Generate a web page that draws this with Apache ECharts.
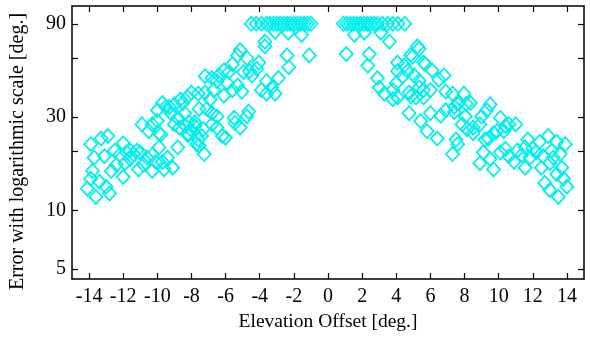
<!DOCTYPE html>
<html>
<head>
<meta charset="utf-8">
<script src="https://cdn.jsdelivr.net/npm/echarts@6/dist/echarts.min.js"></script>
<style>
  html, body { margin: 0; padding: 0; background: #fff; }
  #chart { width: 590px; height: 337px; }
</style>
</head>
<body>
<div id="chart"></div>
<script>
// tick positions
const xTicks = [-14, -12, -10, -8, -6, -4, -2, 0, 2, 4, 6, 8, 10, 12, 14];
const yTicks = [5, 10, 20, 30, 60, 90];
const yLabels = [5, 10, 30, 90];

// negative offsets: [offset, error]
const leftPoints = [
  [-4.5, 90], [-4.2, 90], [-3.9, 90], [-3.6, 90], [-3.4, 90], [-3.2, 90], [-3.0, 90], [-2.8, 90], [-2.6, 90],
  [-2.4, 90], [-2.2, 90], [-2.0, 90], [-1.8, 90], [-1.6, 90], [-1.4, 90], [-1.2, 90], [-1.0, 90],
  [-3.1, 82], [-2.33, 81], [-1.55, 79], [-3.7, 73], [-2.4, 62], [-1.1, 62], [-2.3, 54],
  [-5.15, 66], [-5.3, 62], [-4.75, 60], [-3.7, 69], [-4.05, 57], [-5.6, 56], [-6.1, 52], [-5.8, 51],
  [-4.95, 51], [-4.6, 51.5], [-4.45, 49], [-4.17, 53], [-3.6, 45.8], [-3.9, 41.2], [-3.6, 39.5],
  [-3.3, 42.5], [-2.9, 47.5], [-3.1, 39.5],
  [-6.4, 49], [-6.5, 45.8], [-5.9, 44.7], [-5.6, 41.2], [-5.3, 43.5], [-5.05, 40.5], [-6.1, 38.6],
  [-6.7, 41.2], [-7.2, 40], [-6.9, 36.9], [-7.6, 39.5], [-8.0, 40], [-8.25, 38], [-8.65, 36.9],
  [-9.0, 34.8], [-9.5, 33.8], [-9.7, 35.4], [-10.0, 32.5], [-9.2, 31.4], [-8.8, 29.7], [-8.4, 31.4],
  [-8.15, 28.2], [-7.8, 27], [-7.3, 26], [-6.8, 27.5], [-6.5, 30.2], [-7.1, 33], [-5.5, 29.7],
  [-4.75, 30.2], [-5.15, 26.5], [-6.2, 24], [-7.6, 23], [-8.15, 24.4], [-9.9, 24.8], [-7.2, 48.5],
  [-6.8, 47.5], [-7.55, 33], [-6.8, 31.4], [-6.0, 23.5], [-7.4, 24], [-7.55, 21.5], [-7.25, 19.4],
  [-5.45, 28], [-4.65, 32], [-6.5, 26.5],
  [-9.3, 33.8], [-8.5, 35.4], [-9.0, 27.5], [-8.7, 26.5], [-8.35, 27], [-8.06, 26], [-7.8, 28.2],
  [-8.8, 21], [-7.7, 21.8], [-8.25, 24.4],
  [-10.9, 27.5], [-10.3, 27.5], [-10.5, 25.4], [-10.0, 28.7], [-9.8, 24.4], [-11.1, 16.2], [-10.8, 17.1],
  [-10.6, 18.6], [-10.3, 19.2], [-10.1, 17.7], [-11.0, 19.8], [-9.7, 17.7], [-9.4, 18.6], [-9.1, 16.5],
  [-9.6, 16.2], [-10.3, 15.9], [-9.9, 21],
  [-13.9, 21.8], [-13.3, 23.3], [-12.9, 24], [-13.7, 18.6], [-13.1, 18.9], [-13.8, 15.9], [-13.9, 14.5],
  [-14.1, 12.9], [-13.6, 11.7], [-13.4, 14], [-13.0, 13.2], [-12.8, 12.2], [-12.7, 15.9], [-12.4, 17.1],
  [-12.5, 20.2], [-12.0, 22], [-12.2, 19.2], [-11.8, 19.8], [-11.6, 20.2], [-11.4, 19.4], [-11.2, 20.2],
  [-11.6, 18.3], [-11.9, 17.4], [-12.0, 14.8]
];

// positive offsets: [offset, error]
const rightPoints = [
  [0.9, 90], [1.1, 90], [1.3, 90], [1.5, 90], [1.7, 90], [1.9, 90], [2.1, 90], [2.3, 90], [2.5, 90],
  [2.7, 90], [2.9, 90], [3.2, 90], [3.5, 90], [3.8, 90], [4.1, 90], [4.5, 90],
  [1.55, 79], [2.13, 81], [3.1, 81], [3.6, 73], [1.07, 63], [2.42, 63], [2.33, 55], [4.07, 57],
  [4.95, 61], [5.34, 67], [5.7, 56], [4.66, 51.5], [4.37, 48.4], [5.05, 49], [2.9, 47.5], [3.0, 42.5],
  [3.3, 39.5], [3.8, 41.2], [4.0, 44.7], [4.07, 37.8], [5.34, 42.5], [5.6, 37.8], [4.85, 38.3],
  [5.24, 69], [4.85, 62.5], [4.47, 55], [4.07, 51.5], [5.6, 57], [6.1, 52], [6.8, 49], [6.5, 46.6],
  [5.34, 46], [5.6, 41.2], [6.0, 41.2], [6.9, 40.5], [7.3, 39.5], [4.75, 40], [5.15, 37.8], [3.8, 37],
  [7.96, 39.5], [8.35, 35.4], [7.67, 35.4], [7.4, 33.8], [9.5, 34.8], [9.3, 32.5], [9.0, 30.2],
  [8.05, 30.2], [8.5, 26.5], [8.15, 26], [7.86, 27.5], [10.1, 29.7], [10.4, 27], [9.9, 25.4], [9.4, 23.3],
  [4.75, 31.4], [5.43, 28.6], [6.0, 31.4], [6.6, 30.5], [6.9, 32.5], [5.8, 25.4], [6.4, 23.3], [7.5, 23],
  [7.6, 35], [7.4, 31.8], [8.1, 35], [8.5, 24.8], [8.9, 27.5], [9.2, 23], [10.6, 27.5], [11.0, 27.5],
  [9.7, 24.8], [10.3, 25.4], [7.6, 21.8], [7.3, 19.4], [9.1, 19.8], [8.9, 17.4], [9.5, 18.3], [9.7, 16.2],
  [10.1, 19.8], [10.6, 18.9], [10.4, 20.6], [11.1, 20.2], [11.35, 19.2], [10.9, 17.7], [11.85, 18.6],
  [11.7, 23], [11.55, 21], [12.4, 22.4], [12.0, 20.6], [12.2, 19.8], [12.9, 24], [13.4, 22.4],
  [13.9, 21.8], [12.6, 18.9], [13.1, 20.2], [13.2, 18.6], [13.6, 19.4], [12.5, 16.5], [13.0, 17.4],
  [13.7, 16.5], [13.4, 15.3], [13.8, 14.5], [12.7, 13.8], [13.0, 12.7], [13.5, 11.7], [14.0, 13.2],
  [11.55, 16.5]
];

const chart = echarts.init(document.getElementById('chart'));
const font = 'Liberation Serif';
const axisLine = { show: true, onZero: false, lineStyle: { color: '#000', width: 1.5 } };
const tick = (values) => ({ show: true, inside: true, length: 6, customValues: values, lineStyle: { color: '#000', width: 1.2 } });

chart.setOption({
  animation: false,
  backgroundColor: '#fff',
  grid: { left: 69, right: 6, top: 6, bottom: 57 },
  xAxis: [{
    type: 'value',
    min: -15,
    max: 15,
    name: 'Elevation Offset [deg.]',
    nameLocation: 'middle',
    nameGap: 33,
    nameTextStyle: { fontFamily: font, fontSize: 19.5, color: '#000' },
    axisLine: axisLine,
    axisTick: tick(xTicks),
    axisLabel: { customValues: xTicks, fontFamily: font, fontSize: 20, color: '#000', margin: 8 },
    splitLine: { show: false }
  }, {
    type: 'value',
    position: 'top',
    min: -15,
    max: 15,
    axisLine: axisLine,
    axisTick: tick(xTicks),
    axisLabel: { show: false },
    splitLine: { show: false }
  }],
  yAxis: [{
    type: 'log',
    position: 'left',
    min: 4.45,
    max: 111,
    name: 'Error with logarithmic scale [deg.]',
    nameLocation: 'middle',
    nameGap: 44,
    nameTextStyle: { fontFamily: font, fontSize: 20, color: '#000', padding: [0, 18, 0, 0] },
    axisLine: axisLine,
    axisTick: tick(yTicks),
    minorTick: { show: false },
    axisLabel: { customValues: yLabels, fontFamily: font, fontSize: 20, color: '#000', margin: 6 },
    splitLine: { show: false }
  }, {
    type: 'log',
    position: 'right',
    min: 4.45,
    max: 111,
    axisLine: axisLine,
    axisTick: tick(yTicks),
    axisLabel: { show: false },
    splitLine: { show: false }
  }],
  series: [leftPoints, rightPoints].map(points => ({
    type: 'scatter',
    data: points,
    symbol: 'diamond',
    symbolSize: [13, 14],
    itemStyle: { color: 'rgba(0,0,0,0)', borderColor: '#00f0f0', borderWidth: 1.8, opacity: 1 },
    emphasis: { disabled: true }
  }))
});
window.addEventListener('resize', () => chart.resize());
</script>
</body>
</html>
